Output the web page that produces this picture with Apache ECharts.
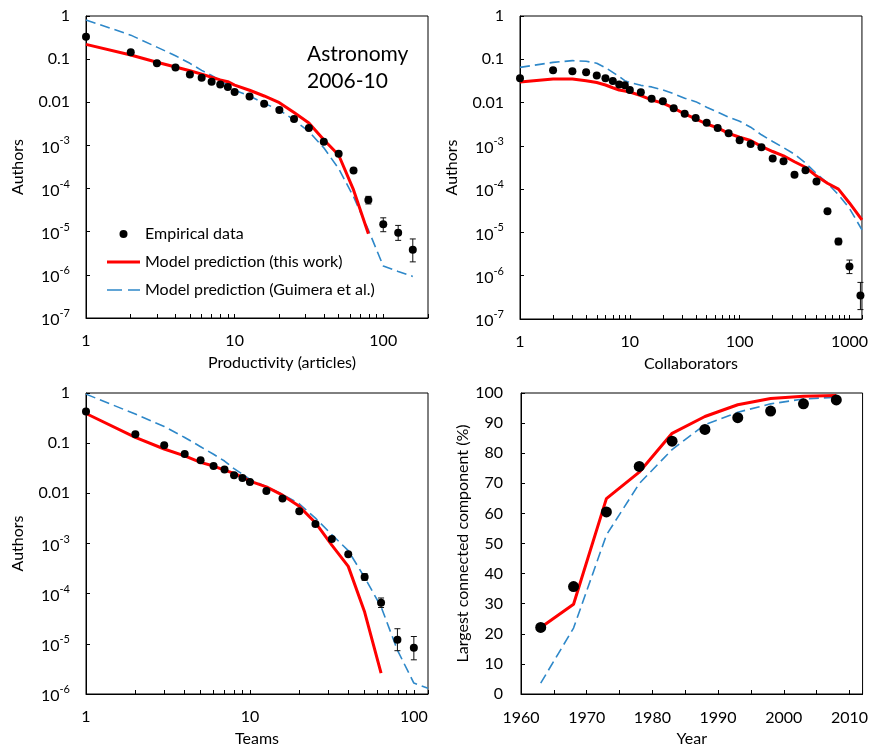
<!DOCTYPE html>
<html><head><meta charset="utf-8">
<script src="https://cdn.jsdelivr.net/npm/echarts@6/dist/echarts.min.js"></script>
<style>html,body{margin:0;padding:0;background:#fff}#c{width:871px;height:748px}</style>
</head><body><div id="c"></div>
<script>
// ---------- Panel A: Productivity ----------
const prodX = [1,2,3,4,5,6,7,8,9,10,12.6,15.8,20,25.1,31.6,39.8,50.1,63.1,79.4,100,126,158];
const prodEmp = [0.33,0.144,0.080,0.064,0.044,0.037,0.030,0.026,0.0227,0.0174,0.0136,0.0092,0.0066,0.0041,0.00255,0.00121,0.00064,0.000263,5.4e-5,1.48e-5,9.5e-6,3.8e-6];
const prodErrX = [79.4,100,126,158];
const prodErrLo = [4.4e-5,1.0e-5,6.3e-6,2.0e-6];
const prodErrHi = [6.6e-5,2.1e-5,1.4e-5,6.8e-6];
const prodModelX = [1,2,3,4,5,6,7,8,9,10,12.6,15.8,20,25.1,31.6,39.8,50.1,63.1,79.4];
const prodModel = [0.22,0.125,0.085,0.066,0.054,0.045,0.038,0.033,0.030,0.025,0.019,0.014,0.0098,0.0058,0.0033,0.00135,0.0006,9.3e-5,9e-6];
const prodGuimX = [1,2,3,4,5,6,7,8,9,10,12.6,15.8,20,25.1,31.6,39.8,50.1,63.1,79.4,100,126,158];
const prodGuim = [0.81,0.36,0.19,0.12,0.08,0.055,0.042,0.032,0.025,0.019,0.014,0.0095,0.0066,0.0039,0.0021,0.00088,0.00029,6.5e-5,1.1e-5,1.6e-6,1.2e-6,9.2e-7];

// ---------- Panel B: Collaborators ----------
const collabX = [1,2,3,4,5,6,7,8,9,10,12.6,15.8,20,25.1,31.6,39.8,50.1,63.1,79.4,100,126,158,200,251,316,398,501,631,794,1000,1259];
const collabEmp = [0.0365,0.0557,0.0528,0.050,0.042,0.0365,0.0316,0.026,0.025,0.0196,0.0173,0.0122,0.0107,0.0074,0.0055,0.0044,0.0034,0.0026,0.00195,0.00135,0.0011,0.00093,0.00051,0.00044,0.000214,0.000275,0.00015,3.1e-5,6.2e-6,1.64e-6,3.5e-7];
const collabErrX = [794,1000,1259];
const collabErrLo = [5.2e-6,1.12e-6,1.65e-7];
const collabErrHi = [7.3e-6,2.3e-6,7.0e-7];
const collabModelX = [1,2,3,4,5,6,7,8,9,10,12.6,15.8,20,25.1,31.6,39.8,50.1,63.1,79.4,100,126,158,200,251,316,398,501,631,794,1000,1300];
const collabModel = [0.030,0.035,0.035,0.032,0.029,0.0255,0.022,0.0195,0.0185,0.0175,0.0145,0.0115,0.0097,0.0074,0.0055,0.0042,0.0032,0.0026,0.00195,0.00158,0.00133,0.00097,0.00074,0.00059,0.00043,0.00032,0.0002,0.000137,0.0001,4.8e-5,1.96e-5];
const collabGuim = [0.065,0.085,0.093,0.09,0.081,0.064,0.05,0.04,0.032,0.029,0.025,0.023,0.0196,0.016,0.0126,0.0105,0.0078,0.006,0.0046,0.0037,0.0027,0.0018,0.00126,0.00091,0.00064,0.0004,0.00023,0.000137,7.4e-5,3.6e-5,1.15e-5];

// ---------- Panel C: Teams ----------
const teamsX = [1,2,3,4,5,6,7,8,9,10,12.6,15.8,20,25.1,31.6,39.8,50.1,63.1,79.4,100];
const teamsEmp = [0.43,0.15,0.0905,0.0608,0.0455,0.035,0.030,0.0229,0.0202,0.0168,0.0111,0.0079,0.0044,0.00245,0.00123,0.00061,0.000215,6.6e-5,1.21e-5,8.4e-6];
const teamsErrX = [50.1,63.1,79.4,100];
const teamsErrLo = [1.85e-4,5.3e-5,7.3e-6,4.8e-6];
const teamsErrHi = [2.5e-4,8.2e-5,2.0e-5,1.4e-5];
const teamsModelX = [1,2,3,4,5,6,7,8,9,10,12.6,15.8,20,25.1,31.6,39.8,50.1,63.1];
const teamsModel = [0.39,0.13,0.0765,0.056,0.0415,0.035,0.029,0.025,0.021,0.0175,0.0135,0.0092,0.0055,0.0026,0.00093,0.00035,4.3e-5,2.6e-6];
const teamsGuimX = [1,2,3,4,5,6,7,8,9,10,12.6,15.8,20,25.1,31.6,39.8,50.1,63.1,79.4,100,122];
const teamsGuim = [0.95,0.38,0.215,0.13,0.085,0.06,0.044,0.031,0.024,0.019,0.0135,0.0095,0.0062,0.0032,0.0015,0.00072,0.00021,5.5e-5,7.5e-6,1.65e-6,1.3e-6];

// ---------- Panel D: Largest connected component ----------
const years = [1963,1968,1973,1978,1983,1988,1993,1998,2003,2008];
const lccEmp = [22.1,35.7,60.5,75.6,84.0,87.9,91.8,94.0,96.4,97.7];
const lccModel = [22.1,29.8,64.9,73.7,86.6,92.2,96.1,98.2,98.9,99.2];
const lccGuim = [3.6,21.9,52.8,69.9,81.2,89.5,93.6,96.4,98.0,98.6];

const NAMES = ['Empirical data','Model prediction (this work)','Model prediction (Guimera et al.)'];
const RED = '#FF0000', BLUE = '#2E88C9', FONT = 'Lato';

const zip = (xs, ys) => xs.map((x, i) => [x, ys[i]]);
const zip3 = (xs, a, b) => xs.map((x, i) => [x, a[i], b[i]]);

function logLabel(v) {
  const l = Math.log10(v), e = Math.round(l);
  if (Math.abs(l - e) > 1e-6) return '';
  if (e >= 0) return String(Math.round(Math.pow(10, e)));
  if (e === -1) return '0.1';
  if (e === -2) return '0.01';
  return '{b|10}{s|' + e + '}';
}
const richSup = {
  b: {fontSize: 16, fontFamily: FONT, color: '#000', lineHeight: 20, verticalAlign: 'bottom'},
  s: {fontSize: 11, fontFamily: FONT, color: '#000', lineHeight: 20, verticalAlign: 'top'}
};

function errRender(params, api) {
  const x = api.value(0), lo = api.value(1), hi = api.value(2);
  const p1 = api.coord([x, lo]), p2 = api.coord([x, hi]);
  const w = 3, style = {stroke: '#111', lineWidth: 1};
  return {type: 'group', children: [
    {type: 'line', shape: {x1: p1[0], y1: p1[1], x2: p2[0], y2: p2[1]}, style},
    {type: 'line', shape: {x1: p1[0] - w, y1: p1[1], x2: p1[0] + w, y2: p1[1]}, style},
    {type: 'line', shape: {x1: p2[0] - w, y1: p2[1], x2: p2[0] + w, y2: p2[1]}, style}
  ]};
}

const axLine = {show: true, onZero: false, lineStyle: {color: '#000', width: 1}};
const tick = {show: true, inside: true, length: 4, lineStyle: {color: '#000'}};
const nameStyle = {fontSize: 16, fontFamily: FONT, color: '#000'};

function logX(gi, min, max, name, shift) {
  return {type: 'log', logBase: 10, gridIndex: gi, min, max, interval: 1,
    name, nameLocation: 'middle', nameGap: 37,
    nameTextStyle: Object.assign({}, nameStyle, {padding: [0, 0, 0, shift || 0]}),
    axisLine: axLine, axisTick: tick,
    minorTick: {show: true, splitNumber: 9, length: 4, lineStyle: {color: '#000'}},
    splitLine: {show: false}, minorSplitLine: {show: false},
    axisLabel: {formatter: logLabel, margin: 15, fontSize: 16, fontFamily: FONT, color: '#000', showMaxLabel: true, showMinLabel: true}};
}
function logY(gi, min, max, name) {
  return {type: 'log', logBase: 10, gridIndex: gi, min, max, interval: 1,
    name, nameLocation: 'middle', nameGap: 60, nameTextStyle: nameStyle,
    axisLine: axLine, axisTick: tick, splitLine: {show: false},
    axisLabel: {formatter: logLabel, margin: 16, fontSize: 16, fontFamily: FONT, color: '#000', rich: richSup}};
}

function panelSeries(gi, empX, emp, errX, errLo, errHi, mX, m, gX, g, sz) {
  const s = [
    {name: NAMES[2], type: 'line', xAxisIndex: gi, yAxisIndex: gi, data: zip(gX, g), symbol: 'none',
     lineStyle: {color: BLUE, width: 1.6, type: [10, 5]}, itemStyle: {color: BLUE}, z: 2},
    {name: NAMES[1], type: 'line', xAxisIndex: gi, yAxisIndex: gi, data: zip(mX, m), symbol: 'none',
     lineStyle: {color: RED, width: 3}, itemStyle: {color: RED}, z: 3},
    {name: NAMES[0], type: 'scatter', xAxisIndex: gi, yAxisIndex: gi, data: zip(empX, emp), symbol: 'circle',
     symbolSize: sz, itemStyle: {color: '#000', opacity: 1}, z: 5}
  ];
  if (errX) s.push({type: 'custom', xAxisIndex: gi, yAxisIndex: gi, renderItem: errRender,
     data: zip3(errX, errLo, errHi), encode: {x: 0, y: [1, 2]}, z: 4, silent: true});
  return s;
}

const chart = echarts.init(document.getElementById('c'), null, {renderer: 'canvas'});
const option = {
  animation: false,
  textStyle: {fontFamily: FONT, color: '#000'},
  title: {text: 'Astronomy\n2006-10', left: 302, top: 36,
    textStyle: {fontSize: 21, fontWeight: 'normal', fontFamily: FONT, color: '#000', lineHeight: 27}},
  legend: {orient: 'vertical', left: 102, top: 221, itemWidth: 33, itemHeight: 8, itemGap: 12,
    selectedMode: false, symbolKeepAspect: true,
    data: [
      {name: NAMES[0], icon: 'circle'},
      {name: NAMES[1], icon: 'path://M0,0H33V3H0Z'},
      {name: NAMES[2], icon: 'path://M0,0H15V1.6H0Z M21,0H33V1.6H21Z'}
    ],
    textStyle: {fontSize: 16, fontFamily: FONT, color: '#000'}},
  grid: [
    {left: 86, top: 16, width: 342, height: 302, show: true, borderColor: '#000', borderWidth: 1, containLabel: false},
    {left: 520, top: 16, width: 342, height: 303, show: true, borderColor: '#000', borderWidth: 1, containLabel: false},
    {left: 86, top: 393, width: 342, height: 302, show: true, borderColor: '#000', borderWidth: 1, containLabel: false},
    {left: 521, top: 393, width: 346, height: 303, show: true, borderColor: '#000', borderWidth: 1, containLabel: false}
  ],
  xAxis: [
    logX(0, 1, 200, 'Productivity (articles)', 50),
    logX(1, 1, 1300, 'Collaborators', 0),
    logX(2, 1, 122, 'Teams', 0),
    {type: 'value', gridIndex: 3, min: 1960, max: 2012, interval: 5, name: 'Year', nameLocation: 'middle', nameGap: 37,
     nameTextStyle: nameStyle, axisLine: axLine, axisTick: tick, splitLine: {show: false},
     axisLabel: {margin: 16, fontSize: 16, fontFamily: FONT, color: '#000', showMaxLabel: true,
       formatter: v => (v % 10 === 0 ? String(v) : '')}}
  ],
  yAxis: [
    logY(0, 1e-7, 1, 'Authors'),
    logY(1, 1e-7, 1, 'Authors'),
    logY(2, 1e-6, 1, 'Authors'),
    {type: 'value', gridIndex: 3, min: 0, max: 100, interval: 10, name: 'Largest connected component (%)',
     nameLocation: 'middle', nameGap: 43, nameTextStyle: nameStyle, axisLine: axLine, axisTick: tick,
     splitLine: {show: false}, axisLabel: {margin: 18, fontSize: 16, fontFamily: FONT, color: '#000'}}
  ],
  series: [].concat(
    panelSeries(0, prodX, prodEmp, prodErrX, prodErrLo, prodErrHi, prodModelX, prodModel, prodGuimX, prodGuim, 8),
    panelSeries(1, collabX, collabEmp, collabErrX, collabErrLo, collabErrHi, collabModelX, collabModel, collabModelX, collabGuim, 8),
    panelSeries(2, teamsX, teamsEmp, teamsErrX, teamsErrLo, teamsErrHi, teamsModelX, teamsModel, teamsGuimX, teamsGuim, 8),
    panelSeries(3, years, lccEmp, null, null, null, years, lccModel, years, lccGuim, 11)
  )
};
chart.setOption(option);
</script></body></html>
